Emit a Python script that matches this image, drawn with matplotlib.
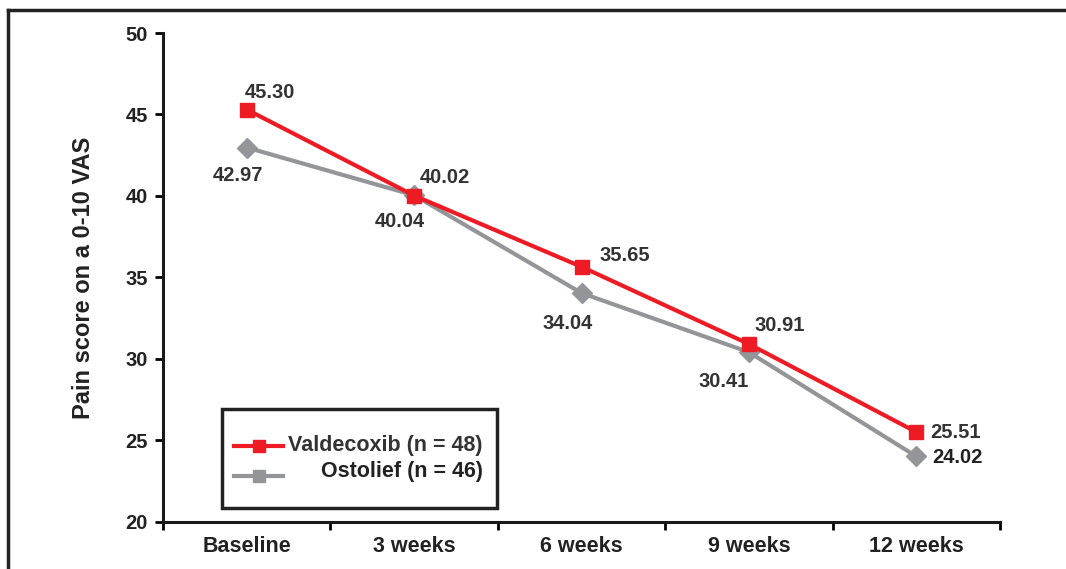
import matplotlib.pyplot as plt
from matplotlib.lines import Line2D
from matplotlib.patches import Rectangle

plt.rcParams['font.family'] = ['Liberation Sans', 'DejaVu Sans']
plt.rcParams['font.weight'] = 'bold'

# Data
timepoints = ["Baseline", "3 weeks", "6 weeks", "9 weeks", "12 weeks"]
valdecoxib = [45.30, 40.02, 35.65, 30.91, 25.51]
ostolief = [42.97, 40.04, 34.04, 30.41, 24.02]
val_labels = ["45.30", "40.02", "35.65", "30.91", "25.51"]
ost_labels = ["42.97", "40.04", "34.04", "30.41", "24.02"]
series_names = ["Valdecoxib (n = 48)", "Ostolief (n = 46)"]

red = '#ed1c24'
gray = '#939598'
txt = '#333333'
W, H = 1066, 569


def fx(x):
    return x / W


def fy(y):
    return 1 - y / H


fig = plt.figure(figsize=(W / 100, H / 100), dpi=100)
ax = fig.add_axes([0.153, 0.083, 0.785, 0.859])

x = range(len(timepoints))
ax.plot(x, ostolief, color=gray, lw=3, marker='D', ms=10.5, zorder=2)
ax.plot(x, valdecoxib, color=red, lw=3, marker='s', ms=10, zorder=3)

# value labels (offsets in points)
val_off = [(17, 12), (22, 13), (31, 8), (22, 13), (28, 0)]
ost_off = [(-6, -20), (-10, -19), (-10, -22), (-18, -21), (30, -1)]
for i in x:
    ax.annotate(val_labels[i], (i, valdecoxib[i]), xytext=val_off[i], textcoords='offset points',
                ha='center', va='center', fontsize=14.5, color=txt, fontweight='bold')
    ax.annotate(ost_labels[i], (i, ostolief[i]), xytext=ost_off[i], textcoords='offset points',
                ha='center', va='center', fontsize=14.5, color=txt if i < 4 else '#222222',
                fontweight='bold')

ax.set_xlim(-0.5, 4.5)
ax.set_ylim(20, 50)
ax.set_yticks(range(20, 51, 5))
ax.set_xticks([i + 0.5 for i in range(-1, 5)])
ax.set_xticklabels([])
ax.set_xticks(list(x), minor=True)
ax.set_xticklabels(timepoints, minor=True)
ax.tick_params(axis='x', which='minor', length=0, pad=10, labelsize=15.5, labelcolor='#222222')
ax.tick_params(axis='x', which='major', length=6, width=2, direction='out')
ax.tick_params(axis='y', length=6, width=2, direction='out', pad=5, labelsize=14.5,
               labelcolor='#222222')
for s in ['top', 'right']:
    ax.spines[s].set_visible(False)
for s in ['left', 'bottom']:
    ax.spines[s].set_linewidth(2.2)
    ax.spines[s].set_color('#1a1a1a')

ax.set_ylabel('Pain score on a 0-10 VAS', fontsize=17, fontweight='bold', color='#222222',
              labelpad=22)

# legend box drawn by hand so the labels can be right aligned
fig.add_artist(Rectangle((fx(222), fy(508)), fx(497) - fx(222), fy(409) - fy(508),
                         transform=fig.transFigure, fill=False, ec='#222222', lw=2.5))
for (col, yy, ty, name) in [(red, 446, 446, series_names[0]), (gray, 476, 472, series_names[1])]:
    fig.add_artist(Line2D([fx(234), fx(283)], [fy(yy), fy(yy)], transform=fig.transFigure,
                          color=col, lw=3))
    fig.add_artist(Line2D([fx(258.5)], [fy(yy)], transform=fig.transFigure, color=col,
                          marker='s', ms=9, lw=0))
    fig.text(fx(483), fy(ty), name, ha='right', va='center', fontsize=15.5,
             fontweight='bold', color=txt if col == red else '#222222')

# outer frame
fig.add_artist(Line2D([0.0075, 1.0], [0.982, 0.982], transform=fig.transFigure, color='#222222', lw=2.5))
fig.add_artist(Line2D([0.0075, 0.0075], [0.0, 0.982], transform=fig.transFigure, color='#222222', lw=2.5))

fig.savefig('out.png', dpi=100)
